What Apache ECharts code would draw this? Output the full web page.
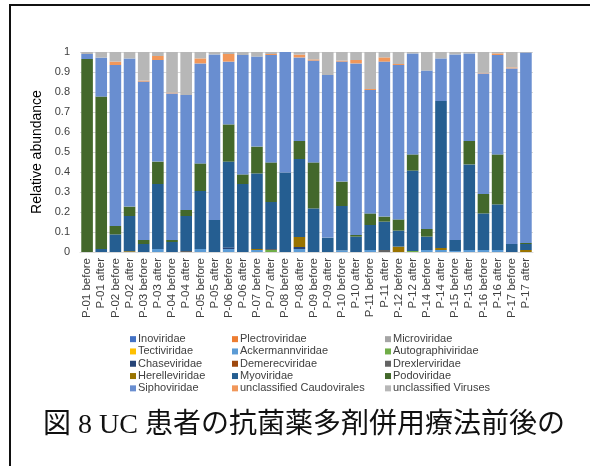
<!DOCTYPE html>
<html>
<head>
<meta charset="utf-8">
<script src="https://cdn.jsdelivr.net/npm/echarts@6/dist/echarts.min.js"></script>
<style>
  html, body { margin: 0; padding: 0; background: #fff; }
  #myChart { width: 590px; height: 466px; }
</style>
</head>
<body>
<div id="myChart"></div>
<script>
// categories (no P-13 in the source)
var samples = ['P-01 before', 'P-01 after', 'P-02 before', 'P-02 after', 'P-03 before', 'P-03 after',
  'P-04 before', 'P-04 after', 'P-05 before', 'P-05 after', 'P-06 before', 'P-06 after',
  'P-07 before', 'P-07 after', 'P-08 before', 'P-08 after', 'P-09 before', 'P-09 after',
  'P-10 before', 'P-10 after', 'P-11 before', 'P-11 after', 'P-12 before', 'P-12 after',
  'P-14 before', 'P-14 after', 'P-15 before', 'P-15 after', 'P-16 before', 'P-16 after',
  'P-17 before', 'P-17 after'];

var zeros = [0,0,0,0,0,0,0,0,0,0,0,0,0,0,0,0,0,0,0,0,0,0,0,0,0,0,0,0,0,0,0,0];
var inoviridae = zeros;
var plectroviridae = zeros;
var microviridae = zeros;
var tectiviridae = zeros;
var ackermannviridae = [0,0,0,0,0,0.015,0,0,0.015,0,0.015,0,0.01,0,0,0.015,0,0,0.008,0,0.01,0,0,0,0.01,0.01,0.005,0.01,0.01,0.01,0,0];
var autographiviridae = [0,0,0,0,0,0,0,0,0,0,0,0,0,0.01,0,0,0,0,0,0,0,0,0,0.005,0,0,0,0,0,0,0,0];
var chaseviridae = [0,0,0,0,0,0,0,0,0,0,0.008,0,0,0,0,0.01,0,0,0,0,0,0,0,0,0,0,0,0,0,0,0,0];
var demerecviridae = zeros;
var drexlerviridae = [0,0,0,0,0,0,0,0.005,0,0,0,0,0,0.005,0,0,0,0,0,0,0,0.01,0,0,0,0,0,0,0,0,0,0];
var herelleviridae = [0,0,0,0.004,0,0,0,0,0,0,0,0,0.005,0,0,0.05,0,0,0,0,0,0,0.027,0,0,0.01,0,0,0,0,0,0.01];
var myoviridae = [0,0.015,0.088,0.176,0.04,0.325,0.05,0.175,0.29,0.16,0.429,0.34,0.378,0.235,0.398,0.39,
  0.218,0.072,0.222,0.077,0.125,0.142,0.08,0.402,0.067,0.735,0.055,0.428,0.183,0.228,0.04,0.03];
var podoviridae = [0.965,0.762,0.042,0.047,0.02,0.112,0.01,0.03,0.138,0,0.186,0.048,0.134,0.198,0,0.09,
  0.23,0,0.122,0.008,0.058,0.025,0.056,0.081,0.038,0,0,0.117,0.097,0.25,0,0.005];
var siphoviridae = [0.025,0.195,0.805,0.741,0.792,0.508,0.733,0.575,0.5,0.828,0.314,0.597,0.45,0.537,0.602,0.418,
  0.509,0.813,0.6,0.858,0.617,0.775,0.772,0.505,0.792,0.213,0.928,0.438,0.603,0.497,0.878,0.952];
var unclassifiedCaudovirales = [0,0,0.017,0,0.005,0.02,0.004,0,0.025,0,0.038,0,0,0.005,0,0.014,
  0.006,0,0.005,0.017,0.005,0.021,0.005,0,0,0,0,0,0.003,0.008,0.005,0];
var unclassifiedViruses = [0.01,0.028,0.048,0.032,0.143,0.02,0.203,0.215,0.032,0.012,0.01,0.015,0.023,0.01,0,0.013,
  0.037,0.115,0.043,0.04,0.185,0.027,0.06,0.007,0.093,0.032,0.012,0.007,0.104,0.007,0.077,0.003];

var yTicks = [0, 0.1, 0.2, 0.3, 0.4, 0.5, 0.6, 0.7, 0.8, 0.9, 1];

// stacking order bottom -> top, same as legend order
var seriesList = [
  ['Inoviridae', inoviridae, '#4472C4'],
  ['Plectroviridae', plectroviridae, '#ED7D31'],
  ['Microviridae', microviridae, '#A5A5A5'],
  ['Tectiviridae', tectiviridae, '#FFC000'],
  ['Ackermannviridae', ackermannviridae, '#5B9BD5'],
  ['Autographiviridae', autographiviridae, '#70AD47'],
  ['Chaseviridae', chaseviridae, '#264478'],
  ['Demerecviridae', demerecviridae, '#9E480E'],
  ['Drexlerviridae', drexlerviridae, '#636363'],
  ['Herelleviridae', herelleviridae, '#997300'],
  ['Myoviridae', myoviridae, '#255E91'],
  ['Podoviridae', podoviridae, '#43682B'],
  ['Siphoviridae', siphoviridae, '#698ED0'],
  ['unclassified Caudovirales', unclassifiedCaudovirales, '#F1975A'],
  ['unclassified Viruses', unclassifiedViruses, '#B7B7B7']
];

var names = seriesList.map(function (s) { return s[0]; });
function col(i) { return [names[i], names[i + 3], names[i + 6], names[i + 9], names[i + 12]]; }

var legendBase = {
  orient: 'vertical',
  top: 328,
  itemWidth: 6,
  itemHeight: 6,
  itemGap: 0,
  icon: 'rect',
  selectedMode: false,
  textStyle: { fontFamily: 'Liberation Sans, Arial', fontSize: 11, color: '#404040', lineHeight: 12.3, padding: [0, 0, 0, -3] }
};

var myChart = echarts.init(document.getElementById('myChart'));
var option = {
  animation: false,
  backgroundColor: '#fff',
  textStyle: { fontFamily: 'Liberation Sans, Arial' },
  grid: { left: 80, right: 57, top: 52, bottom: 214 },
  legend: [
    Object.assign({}, legendBase, { left: 125, data: col(0) }),
    Object.assign({}, legendBase, { left: 227, data: col(1) }),
    Object.assign({}, legendBase, { left: 380, data: col(2) })
  ],
  xAxis: {
    type: 'category',
    data: samples,
    axisTick: { show: false },
    axisLine: { lineStyle: { color: '#D9D9D9' } },
    axisLabel: { rotate: 90, interval: 0, fontSize: 11.5, color: '#404040', margin: 6 }
  },
  yAxis: {
    type: 'value',
    min: yTicks[0],
    max: yTicks[yTicks.length - 1],
    interval: 0.1,
    name: 'Relative abundance',
    nameLocation: 'middle',
    nameGap: 36,
    nameTextStyle: { fontSize: 14, color: '#000' },
    axisLabel: { fontSize: 11, color: '#404040', margin: 10 },
    splitLine: { lineStyle: { color: '#D9D9D9' } }
  },
  series: seriesList.map(function (s) {
    return {
      name: s[0],
      type: 'bar',
      stack: 'total',
      barCategoryGap: '18%',
      itemStyle: { color: s[2] },
      data: s[1]
    };
  }),
  graphic: [
    {
      type: 'rect',
      shape: { x: 10, y: 5, width: 700, height: 600 },
      style: { fill: 'none', stroke: '#111', lineWidth: 2 },
      silent: true
    },
    {
      type: 'text',
      left: 43,
      top: 412,
      style: {
        text: '図 8 UC 患者の抗菌薬多剤併用療法前後の',
        font: '28px "Liberation Serif", "Noto Sans CJK JP", serif',
        fill: '#111'
      }
    }
  ]
};
myChart.setOption(option);
</script>
</body>
</html>
